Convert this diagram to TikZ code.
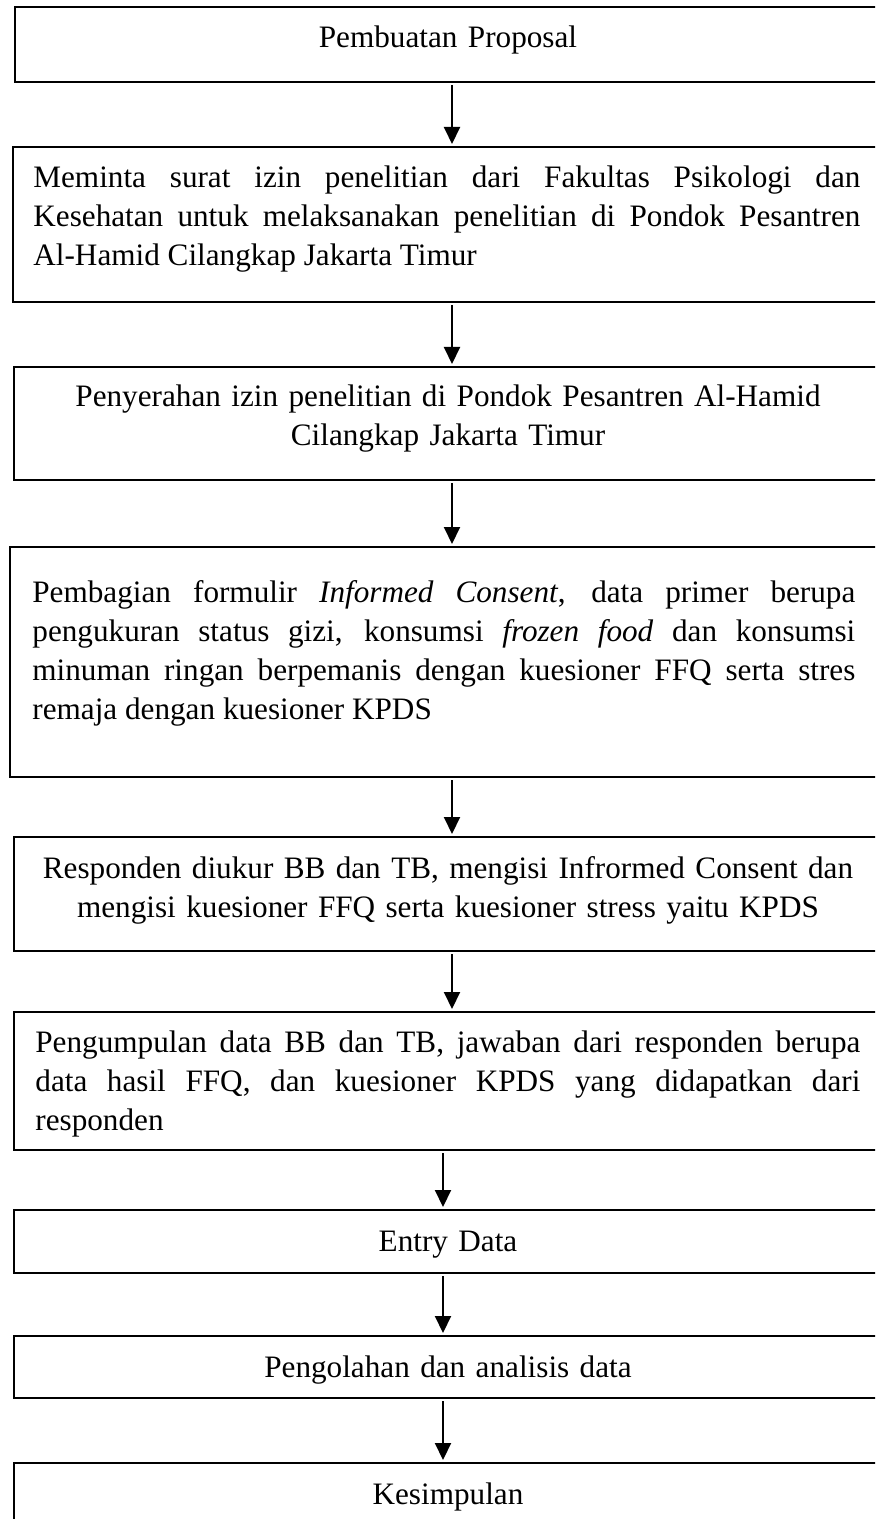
\documentclass[tikz,border=0pt]{standalone}
\usepackage{fontspec}
\setmainfont{Liberation Serif}
\usetikzlibrary{arrows.meta,fit}
\tolerance=10000
\hyphenpenalty=10000

\tikzset{
  box/.style={draw, line width=1pt, inner sep=0pt},
  para/.style={inner sep=0pt, anchor=base west, align=justify, font=\fontsize{15.6}{19.5}\selectfont},
  centre/.style={inner sep=0pt, anchor=base, text width=420pt, execute at begin node=\centering, font=\fontsize{15.6}{19.5}\selectfont},
  arr/.style={-{Triangle[length=8.5pt,width=8pt]}, line width=1pt, shorten <=1pt, shorten >=1pt}
}

\begin{document}
\begin{tikzpicture}[x=0.5pt,y=-0.5pt]
\useasboundingbox (0,0) rectangle (875,1519);
\clip (0,0) rectangle (875,1519);

% boxes
\node[box, fit={(15,7) (882,82)}] (b1) {};
\node[box, fit={(13,147) (882,302)}] (b2) {};
\node[box, fit={(14,367) (882,480)}] (b3) {};
\node[box, fit={(10,547) (882,777)}] (b4) {};
\node[box, fit={(14,837) (882,951)}] (b5) {};
\node[box, fit={(14,1012) (882,1150)}] (b6) {};
\node[box, fit={(14,1210) (882,1273)}] (b7) {};
\node[box, fit={(14,1336) (882,1398)}] (b8) {};
\node[box, fit={(14,1463) (882,1525)}] (b9) {};

% texts
\node[centre] (t1) at (448,48) {Pembuatan Proposal};
\node[para, text width=413.5pt] (t2) at (33,188) {Meminta surat izin penelitian dari Fakultas Psikologi dan\linebreak Kesehatan untuk melaksanakan penelitian di Pondok Pesantren\linebreak Al-Hamid Cilangkap Jakarta Timur};
\node[centre] (t3) at (448,407) {Penyerahan izin penelitian di Pondok Pesantren Al-Hamid\\Cilangkap Jakarta Timur};
\node[para, text width=411.5pt] (t4) at (32,602) {Pembagian formulir \textit{Informed Consent}, data primer berupa\linebreak pengukuran status gizi, konsumsi \textit{frozen food} dan konsumsi\linebreak minuman ringan berpemanis dengan kuesioner FFQ serta stres\linebreak remaja dengan kuesioner KPDS};
\node[centre] (t5) at (448,878) {Responden diukur BB dan TB, mengisi Infrormed Consent dan\\mengisi kuesioner FFQ serta kuesioner stress yaitu KPDS};
\node[para, text width=412.5pt] (t6) at (35,1052) {Pengumpulan data BB dan TB, jawaban dari responden berupa\linebreak data hasil FFQ, dan kuesioner KPDS yang didapatkan dari\linebreak responden};
\node[centre] (t7) at (448,1251) {Entry Data};
\node[centre] (t8) at (448,1377) {Pengolahan dan analisis data};
\node[centre] (t9) at (448,1504) {Kesimpulan};

% arrows
\coordinate (colA) at (452,0);
\coordinate (colB) at (443,0);
\foreach \u/\v in {b1/b2, b2/b3, b3/b4, b4/b5, b5/b6}
  \draw[arr] (\u.south -| colA) -- (\v.north -| colA);
\foreach \u/\v in {b6/b7, b7/b8, b8/b9}
  \draw[arr] (\u.south -| colB) -- (\v.north -| colB);
\end{tikzpicture}
\end{document}
